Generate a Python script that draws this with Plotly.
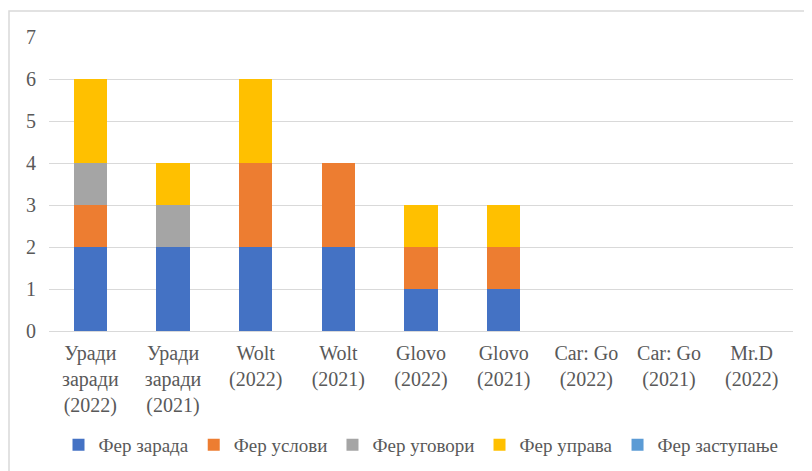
import plotly.graph_objects as go

categories = ["Уради<br>заради<br>(2022)", "Уради<br>заради<br>(2021)", "Wolt<br>(2022)", "Wolt<br>(2021)",
              "Glovo<br>(2022)", "Glovo<br>(2021)", "Car: Go<br>(2022)", "Car: Go<br>(2021)", "Mr.D<br>(2022)"]
fer_zarada = [2, 2, 2, 2, 1, 1, 0, 0, 0]
fer_uslovi = [1, 0, 2, 2, 1, 1, 0, 0, 0]
fer_ugovori = [1, 1, 0, 0, 0, 0, 0, 0, 0]
fer_uprava = [2, 1, 2, 0, 1, 1, 0, 0, 0]
fer_zastupanje = [0, 0, 0, 0, 0, 0, 0, 0, 0]

series = [
    ("Фер зарада", fer_zarada, "#4472C4"),
    ("Фер услови", fer_uslovi, "#ED7D31"),
    ("Фер уговори", fer_ugovori, "#A5A5A5"),
    ("Фер управа", fer_uprava, "#FFC000"),
    ("Фер заступање", fer_zastupanje, "#5B9BD5"),
]

FONT = "Liberation Serif, Times New Roman, serif"
FS = 20
LFS = 19
fig = go.Figure()
for name, vals, col in series:
    fig.add_trace(go.Bar(name=name, x=categories, y=vals, marker=dict(color=col, line=dict(width=0))))

OFF = 8  # page body margin
W, H = 812 - OFF, 471 - OFF
L, R, T, B = 49 - OFF, 19, 37 - OFF, 140
pw, ph = W - L - R, H - T - B

def px_x(px):
    return (px - OFF - L) / pw

def px_y(py):
    return (H - B - (py - OFF)) / ph

fig.update_layout(
    width=W, height=H,
    barmode="stack", bargap=0.6,
    margin=dict(l=L, r=R, t=T, b=B, autoexpand=False),
    paper_bgcolor="white", plot_bgcolor="white",
    font=dict(family=FONT, size=FS, color="#595959"),
    showlegend=True,
    legend=dict(orientation="h", x=0.5, xanchor="center", y=px_y(445), yanchor="middle",
                font=dict(family=FONT, size=LFS, color="#595959"), traceorder="normal",
                itemclick=False, tracegroupgap=0),
    xaxis=dict(showgrid=False, showline=False, ticks="", automargin=False, ticklabelstandoff=8,
               tickfont=dict(family=FONT, size=FS, color="#595959")),
    yaxis=dict(range=[0, 7], dtick=1, showgrid=True, gridcolor="#D9D9D9", gridwidth=1,
               zeroline=True, zerolinecolor="#D9D9D9", zerolinewidth=1, showline=False, automargin=False,
               ticks="", ticklabelstandoff=12, tickfont=dict(family=FONT, size=FS, color="#595959")),
    shapes=[dict(type="rect", xref="paper", yref="paper",
                 x0=px_x(9), x1=px_x(830), y0=px_y(490), y1=px_y(11),
                 line=dict(color="#D9D9D9", width=1.5), fillcolor="rgba(0,0,0,0)", layer="below")],
)

fig.write_html("out.html")
